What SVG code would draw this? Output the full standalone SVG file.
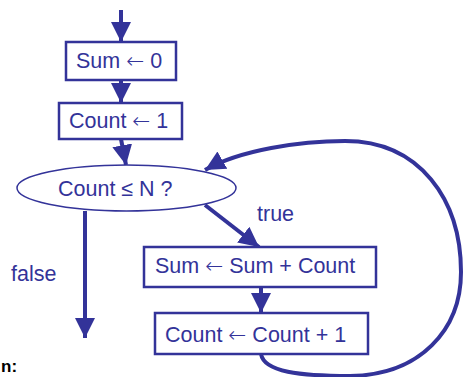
<svg xmlns="http://www.w3.org/2000/svg" width="463" height="377" viewBox="0 0 463 377">
<defs>
<style>
.box{fill:#fff;stroke:#333399;stroke-width:2.5}
.ell{fill:#fff;stroke:#333399;stroke-width:1.5}
.t{font-family:"Liberation Sans","DejaVu Sans",sans-serif;font-size:21.5px;fill:#333399}
.a{font-family:"DejaVu Sans",sans-serif;font-weight:200}
.c{fill:none;stroke:#333399;stroke-width:4}
</style>
<marker id="ah" markerUnits="userSpaceOnUse" markerWidth="22" markerHeight="22" refX="20" refY="10" orient="auto" viewBox="0 0 22 20">
<path d="M0,0 L20,10 L0,20 Z" fill="#333399"/>
</marker>
</defs>
<g id="connectors">
<line class="c" x1="121" y1="10" x2="121" y2="42" marker-end="url(#ah)"/>
<line class="c" x1="121" y1="80" x2="121" y2="103" marker-end="url(#ah)"/>
<line class="c" x1="121" y1="139" x2="126" y2="165" marker-end="url(#ah)"/>
<line class="c" x1="85" y1="211" x2="85" y2="338" marker-end="url(#ah)"/>
<line class="c" x1="205" y1="205" x2="259" y2="247" marker-end="url(#ah)"/>
<line class="c" x1="261" y1="287" x2="261" y2="313" marker-end="url(#ah)"/>
<path class="c" d="M261,354 C264,372 300,376 350,376 C420,375 461,330 461,272 C461,200 420,141 345,141 C300,141 240,150 205,170" marker-end="url(#ah)"/>
</g>
<g id="n1"><rect class="box" x="66" y="42" width="110" height="38"/><text class="t" x="76" y="68">Sum <tspan class="a">←</tspan> 0</text></g>
<g id="n2"><rect class="box" x="59" y="103" width="123" height="36"/><text class="t" x="69" y="128">Count <tspan class="a">←</tspan> 1</text></g>
<g id="n3"><ellipse class="ell" cx="126.5" cy="188" rx="109.5" ry="23"/><text class="t" x="58" y="196">Count ≤ N ?</text></g>
<g id="n4"><rect class="box" x="144" y="247" width="232" height="40"/><text class="t" x="155" y="273">Sum <tspan class="a">←</tspan> Sum + Count</text></g>
<g id="n5"><rect class="box" x="155" y="313" width="213" height="41"/><text class="t" x="165" y="342">Count <tspan class="a">←</tspan> Count + 1</text></g>
<g id="labels">
<text class="t" x="257" y="221">true</text>
<text class="t" x="11" y="281">false</text>
<text x="1" y="372" style="font-family:'Liberation Sans',sans-serif;font-size:17px;font-weight:bold;fill:#000">n:</text>
</g>
</svg>
